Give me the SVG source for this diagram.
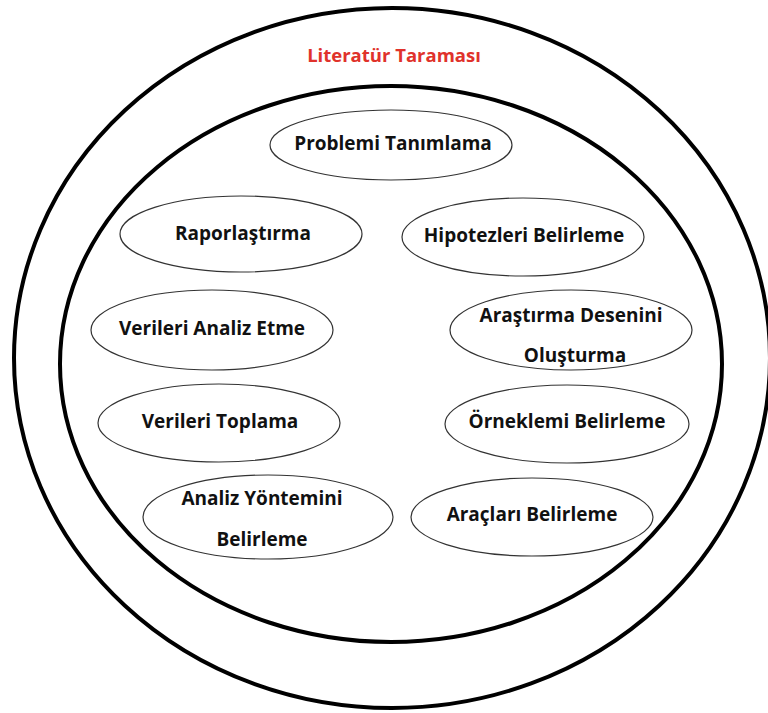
<svg xmlns="http://www.w3.org/2000/svg" width="768" height="713" viewBox="0 0 768 713">
<style>
.ring{fill:none;stroke:#000;stroke-width:4}
.node{fill:#fff;stroke:#333;stroke-width:1.2}
.lbl{font-family:"Open Sans",Lato,"Liberation Sans",sans-serif;font-weight:700;font-size:19px;fill:#111;text-anchor:middle}
.title{font-family:"Open Sans",Lato,"Liberation Sans",sans-serif;font-weight:700;font-size:18.5px;fill:#e0322b;text-anchor:middle}
</style>
<rect width="768" height="713" fill="#fff"/>
<g id="outer">
<ellipse class="ring" cx="392" cy="358" rx="378" ry="350"/>
<text class="title" x="394" y="62">Literatür Taraması</text>
</g>
<g id="inner">
<ellipse class="ring" cx="391" cy="364" rx="331" ry="278"/>
</g>
<g id="n1"><ellipse class="node" cx="391" cy="145" rx="121" ry="35"/><text class="lbl" x="393" y="150">Problemi Tanımlama</text></g>
<g id="n2"><ellipse class="node" cx="241" cy="234" rx="121" ry="38"/><text class="lbl" x="243" y="240">Raporlaştırma</text></g>
<g id="n3"><ellipse class="node" cx="523" cy="237" rx="121" ry="39"/><text class="lbl" x="524" y="242">Hipotezleri Belirleme</text></g>
<g id="n4"><ellipse class="node" cx="212" cy="330" rx="121" ry="40"/><text class="lbl" x="212" y="335">Verileri Analiz Etme</text></g>
<g id="n5"><ellipse class="node" cx="571" cy="330" rx="121" ry="40"/><text class="lbl" x="571" y="322">Araştırma Desenini</text><text class="lbl" x="575" y="362">Oluşturma</text></g>
<g id="n6"><ellipse class="node" cx="219" cy="423" rx="121" ry="39"/><text class="lbl" x="220" y="428">Verileri Toplama</text></g>
<g id="n7"><ellipse class="node" cx="567" cy="424" rx="122" ry="39"/><text class="lbl" x="567" y="428">Örneklemi Belirleme</text></g>
<g id="n8"><ellipse class="node" cx="268" cy="517" rx="125" ry="42"/><text class="lbl" x="262" y="505">Analiz Yöntemini</text><text class="lbl" x="262" y="546">Belirleme</text></g>
<g id="n9"><ellipse class="node" cx="532" cy="517" rx="121" ry="39"/><text class="lbl" x="532" y="521">Araçları Belirleme</text></g>
</svg>
